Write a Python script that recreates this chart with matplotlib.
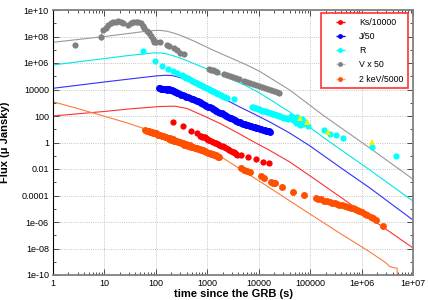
import numpy as np
import matplotlib
matplotlib.use('Agg')
from matplotlib import pyplot as plt
from matplotlib.ticker import FixedLocator, LogLocator, NullFormatter

plt.rcParams['font.family'] = ['Liberation Sans', 'DejaVu Sans']

# --- data (time in s, flux in micro Jansky) ---
# V x 50
v_t = [2.7, 9.3, 10.7, 11.7, 13.4, 14.6, 16.7, 18.3, 21, 22.9,
       28.6, 32.7, 35.7, 40.8, 44.7, 51, 56, 58.5, 67, 73, 80, 87.5, 91.5,
       120, 164, 178, 224, 256, 292, 348,
       1070, 1170, 1280, 1400, 1530, 2090, 2390, 2740, 3130, 3570, 4090,
       5110, 5850, 6690, 7640, 8740, 1.0e4, 1.14e4, 1.31e4, 1.5e4, 1.71e4,
       1.95e4, 2.24e4, 2.45e4]
v_flux = [2.3e7, 3.1e8, 4.6e8, 7.4e8, 1.0e9, 1.2e9, 1.3e9, 1.5e9, 1.2e9, 1.1e9,
          7.4e8, 1.0e9, 1.2e9, 1.3e9, 1.2e9, 1.0e9, 6.2e8, 4.2e8, 2.8e8, 1.8e8,
          1.1e8, 6.1e7, 4.1e7,
          3.7e7, 2.3e7, 1.9e7, 1.4e7, 9.6e6, 6.0e6, 4.6e6,
          3.5e5, 3.2e5, 2.8e5, 2.5e5, 2.2e5, 1.44e5, 1.25e5, 1.0e5, 8.6e4, 7.1e4,
          6.0e4, 4.4e4, 3.8e4, 3.1e4, 2.6e4, 2.2e4, 1.8e4, 1.5e4, 1.25e4,
          1.05e4, 8.8e3, 7.3e3, 6.2e3, 5.4e3]
v_err_t = [8.5, 100]
v_err_flux = [1.0e8, 3.9e7]
v_err_lo = [4.5e7, 1.2e7]
v_err_hi = [9.0e7, 1.7e7]

# R
r_t = [56, 96, 131, 171, 214, 256, 320, 340, 366, 390, 418, 445, 478, 510,
       547, 585, 625, 670, 715, 765, 818, 875, 935, 1000, 1070, 1140, 1220,
       1310, 1400, 1500, 1600, 1710, 1830, 1960, 2090, 2240, 2390, 3270,
       7310, 7800, 8360, 8900, 9550, 1.02e4, 1.09e4, 1.17e4, 1.25e4, 1.34e4,
       1.43e4, 1.53e4, 1.64e4, 1.75e4, 1.87e4, 2.0e4, 2.14e4, 2.3e4,
       2.45e4, 2.6e4, 2.8e4, 3.0e4, 3.2e4, 3.4e4, 3.66e4,
       4.2e4, 4.6e4, 5.0e4, 5.2e4, 5.5e4, 5.8e4, 6.3e4, 6.8e4, 7.4e4,
       8.1e4, 8.9e4,
       1.9e5, 2.4e5, 3.2e5, 4.3e5, 1.6e6, 4.6e6]
r_flux = [8.5e6, 1.5e6, 6.3e5, 3.5e5, 2.3e5, 1.8e5, 1.14e5, 1.0e5, 8.8e4,
          7.6e4, 6.8e4, 6.0e4, 5.2e4, 4.6e4, 4.0e4, 3.5e4, 3.1e4, 2.7e4,
          2.3e4, 2.1e4, 1.8e4, 1.6e4, 1.4e4, 1.2e4, 1.05e4, 9.3e3, 8.1e3,
          7.2e3, 6.3e3, 5.5e3, 4.8e3, 4.2e3, 3.7e3, 3.3e3, 2.9e3, 2.5e3,
          2.2e3, 1.8e3,
          480, 440, 400, 370, 340, 310, 280, 260, 240, 220, 200, 185, 170,
          155, 140, 130, 120, 110, 100, 92, 84, 77, 71, 65, 59,
          100, 50, 71, 30, 83, 42, 21, 59, 25, 35, 18,
          8.7, 4.4, 3.7, 2.2, 0.46, 0.095]
r_lim_t = [6.3e4, 8.5e4, 2.2e5, 1.6e6]
r_lim_flux = [70, 35, 6.3, 1.1]

# J/50
j_t = [116, 120, 126, 133, 139, 147, 155, 165, 173, 180, 187, 195, 202, 217,
       225, 234, 245, 260, 275, 292, 315, 340, 365, 394, 425, 460, 495, 530,
       575, 620, 665, 715, 770, 830, 895, 965, 1040, 1120, 1210, 1300, 1400,
       1510, 1630, 1750, 1890, 2040, 2200, 2360, 2550, 2740, 2950, 3170,
       3420, 3680, 3970, 4270, 4600, 4960, 5350, 5760, 6200, 6700, 7200,
       7760, 8350, 9000, 9700, 1.05e4, 1.13e4, 1.22e4, 1.3e4, 1.41e4, 1.52e4,
       1.58e4, 1.63e4]
j_flux = [1.23e4, 1.3e4, 1.15e4, 1.05e4, 1.1e4, 1.15e4, 1.08e4, 1.0e4, 1.05e4,
          1.1e4, 1.0e4, 9.5e3, 9.2e3, 8.0e3, 7.5e3, 6.8e3, 6.2e3, 5.6e3,
          5.0e3, 4.6e3, 4.1e3, 3.6e3, 3.2e3, 2.9e3, 2.6e3, 2.3e3, 2.0e3,
          1.8e3, 1.6e3, 1.4e3, 1.25e3, 1.1e3, 950, 820, 700, 600, 520, 450,
          390, 340, 290, 250, 210, 180, 155, 135, 115, 100, 88, 75, 65, 56,
          50, 43, 38, 33, 30, 26, 23, 21, 19.5, 18, 17, 15.5, 14, 12.5, 11.5,
          10.5, 10, 9.0, 8.2, 7.8, 7.2, 7.0, 6.6]

# Ks/10000
k_t = [217, 339, 472, 617, 715, 760, 800, 850, 890, 940, 990, 1050, 1100,
       1200, 1300, 1400, 1500, 1600, 1700, 1880, 2000, 2150, 2360, 2500,
       2700, 2950, 3100, 3300, 3440, 3550, 3700, 4600, 6100, 9000, 1.23e4,
       1.6e4]
k_flux = [37, 18, 7.8, 5.0, 3.1, 2.9, 2.6, 2.7, 2.5, 2.1, 1.74, 1.6, 1.55,
          1.3, 1.15, 1.0, 0.87, 0.8, 0.68, 0.55, 0.5, 0.43, 0.36, 0.33, 0.28,
          0.24, 0.2, 0.18, 0.15, 0.13, 0.115, 0.105, 0.085, 0.062, 0.035,
          0.027]

# 2 keV/5000
x_t = [62, 66, 70, 74, 77, 82, 85, 89, 95, 100, 104, 110, 115, 120, 130, 135,
       140, 150, 161, 170, 180, 188, 200, 217, 230, 240, 252, 270, 292, 310,
       320, 340, 360, 380, 394, 420, 440, 460, 490, 530, 570, 590, 620, 670,
       715, 760, 780, 830, 880, 900, 965, 1040, 1120, 1200, 1250, 1300, 1380,
       1450, 1550, 1620, 1700,
       4500, 5200, 6000, 6900, 1.1e4, 1.26e4, 1.7e4, 1.9e4, 2.1e4, 2.9e4,
       4.7e4, 7.6e4, 1.3e5, 1.45e5, 1.6e5, 1.9e5, 2.1e5, 2.4e5, 2.7e5,
       3.0e5, 3.4e5, 3.7e5, 4.2e5, 4.8e5, 5.5e5, 6.2e5, 6.7e5, 7.5e5,
       8.3e5, 9.1e5, 1.0e6, 1.15e6, 1.3e6, 1.5e6, 1.7e6, 1.9e6, 2.6e6]
x_flux = [8.5, 7.8, 7.2, 7.0, 6.5, 5.9, 6.0, 5.5, 4.9, 4.8, 4.5, 4.0, 4.0,
          3.7, 3.0, 3.1, 3.2, 2.5, 2.75, 2.1, 2.0, 2.2, 1.6, 1.74, 1.4, 1.3,
          1.4, 1.1, 1.15, 0.88, 0.86, 0.95, 0.7, 0.68, 0.78, 0.56, 0.55,
          0.6, 0.48, 0.48, 0.38, 0.37, 0.4, 0.31, 0.32, 0.26, 0.25, 0.25,
          0.21, 0.21, 0.2, 0.17, 0.16, 0.14, 0.13, 0.13, 0.115, 0.105, 0.095,
          0.085, 0.082,
          0.011, 0.009, 0.0075, 6.3e-3, 2.8e-3, 2.2e-3, 1.1e-3, 9.5e-4,
          8.3e-4, 4.6e-4, 1.9e-4, 1.15e-4, 6.2e-5, 5.5e-5, 5.0e-5, 4.1e-5,
          3.7e-5, 3.2e-5, 2.8e-5, 2.6e-5, 2.2e-5, 2.0e-5, 1.8e-5, 1.5e-5,
          1.3e-5, 1.15e-5, 1.07e-5, 9e-6, 7.5e-6, 6.8e-6, 5.5e-6, 4.3e-6,
          3.4e-6, 2.6e-6, 1.9e-6, 1.4e-6, 4.6e-7]

# --- model curves ---
opt_model_t = [1, 10, 30, 60, 88, 120, 165, 235, 335, 575, 1340, 2740, 5840,
               1.05e4, 4e4, 1.87e5, 1.45e6, 1e7]
r_model = [7.1e5, 2.15e6, 3.7e6, 4.9e6, 5.7e6, 5.8e6, 4.8e6, 3.2e6, 2.0e6,
           8.4e5, 2.2e5, 6.8e4, 1.84e4, 5.4e3, 200, 2.2, 8.4e-3, 3.8e-5]
v_model = [3.65e7, 1.0e8, 1.7e8, 2.4e8, 2.8e8, 2.9e8, 2.5e8, 1.7e8, 1.04e8,
           4.2e7, 8.8e6, 2.6e6, 7.1e5, 2.3e5, 9.2e3, 100, 0.38, 1.7e-3]
j_model_t = [1, 10, 31, 100, 150, 204, 292, 458, 817, 1750, 4270, 7760,
             1.65e4, 4e4, 1e5, 4e5, 1.45e6, 1e7]
j_model = [1.23e4, 3.7e4, 6.2e4, 1.05e5, 1.18e5, 1.14e5, 8.1e4, 4.0e4, 1.23e4,
           2.9e3, 480, 155, 35, 5.2, 0.54, 0.0119, 3.7e-4, 1.4e-6]
k_model_t = [1, 10, 30, 120, 235, 400, 817, 1750, 4270, 7760, 1.65e4, 4e4,
             1e5, 4e5, 1.45e6, 1e7]
k_model = [100, 220, 340, 520, 550, 370, 110, 28, 4.4, 1.19, 0.25, 0.034,
           3.0e-3, 7.1e-5, 2.0e-6, 1.1e-8]
x_model_t = [1, 2.9, 8.2, 27, 88, 290, 715, 1750, 1.05e4, 6.3e4, 3.7e5,
             1.45e6, 3.0e6, 3.5e6, 4.4e6, 4.9e6, 5.0e6]
x_model = [1200, 380, 120, 31, 6.6, 1.55, 0.46, 0.095, 1.15e-3, 1.26e-5,
           1.5e-7, 5.5e-9, 8.1e-10, 4.4e-10, 3.4e-10, 3.4e-10, 5e-11]

labels = ['Ks/10000', 'J/50', 'R', 'V x 50', '2 keV/5000']
y_tick_labels = ['1e+10', '1e+08', '1e+06', '10000', '100', '1', '0.01',
                 '0.0001', '1e-06', '1e-08', '1e-10']
x_tick_labels = ['1', '10', '100', '1000', '10000', '100000', '1e+06', '1e+07']

fig = plt.figure(figsize=(4.28, 3.0), dpi=100)
ax = fig.add_axes([53 / 428, 25 / 300, 360 / 428, 265 / 300])
ax.set_xscale('log')
ax.set_yscale('log')

# models
ax.plot(opt_model_t, v_model, color='#999999', lw=0.8)
ax.plot(opt_model_t, r_model, color='#00e8e8', lw=0.8)
ax.plot(j_model_t, j_model, color='#3030ff', lw=0.8)
ax.plot(k_model_t, k_model, color='#ff3030', lw=0.8)
ax.plot(x_model_t, x_model, color='#ff7b3a', lw=0.8)

# data
ms = 4.5
ax.plot(v_t, v_flux, 'o', color='#808080', ms=ms, mew=0)
ax.errorbar(v_err_t, v_err_flux, yerr=[v_err_lo, v_err_hi], fmt='o',
            color='#808080', ms=ms, mew=0, elinewidth=0.8, capsize=2)
ax.plot(r_t, r_flux, 'o', color='#00ffff', ms=ms, mew=0)
ax.plot(r_lim_t, r_lim_flux, '^', color='#f0f000', ms=4, mew=0)
ax.plot(j_t, j_flux, 'o', color='#0000ff', ms=5, mew=0)
ax.plot(k_t, k_flux, 'o', color='#ff0000', ms=ms, mew=0)
ax.plot(x_t, x_flux, 'o', color='#ff5000', ms=5, mew=0)

# legend proxies in errorbar style
dot_cols = ['#ff0000', '#0000ff', '#00ffff', '#808080', '#ff5000']
bar_cols = ['#ff0000', '#0000ff', '#00ffff', '#c0c0c0', '#ffa080']
handles = []
for lab, dc, bc in zip(labels, dot_cols, bar_cols):
    h = ax.errorbar([np.nan], [np.nan], xerr=[1], fmt='o', color=dc,
                    ecolor=bc, ms=3.5, mew=0, elinewidth=1, capsize=2,
                    label=lab)
    handles.append(h)
leg = ax.legend(handles=handles, loc='upper right',
                bbox_to_anchor=(0.986, 0.9875), borderaxespad=0,
                fontsize=6.3, fancybox=False, framealpha=1,
                handlelength=3.4, handletextpad=0.45, labelspacing=0.6,
                borderpad=0.5)
leg.get_frame().set_edgecolor('#ff3333')
leg.get_frame().set_linewidth(1.2)

ax.set_xlim(1, 1e7)
ax.set_ylim(1e-10, 1e10)

ax.yaxis.set_major_locator(FixedLocator([10.0 ** e for e in range(10, -11, -2)]))
ax.set_yticklabels(y_tick_labels)
ax.yaxis.set_minor_locator(FixedLocator([10.0 ** e for e in range(9, -10, -2)]))
ax.yaxis.set_minor_formatter(NullFormatter())
ax.xaxis.set_major_locator(FixedLocator([10.0 ** e for e in range(0, 8)]))
ax.set_xticklabels(x_tick_labels)
ax.xaxis.set_minor_locator(LogLocator(base=10, subs=np.arange(2, 10), numticks=20))
ax.xaxis.set_minor_formatter(NullFormatter())

ax.tick_params(which='both', direction='in', top=True, right=True,
               labelsize=6.5, pad=3, color='#333333')
ax.tick_params(which='major', length=4, width=0.6)
ax.tick_params(which='minor', length=2, width=0.6)

ax.grid(which='major', linestyle=':', color='#b0b0b0', linewidth=0.6)
ax.set_axisbelow(True)

for s in ['top', 'right', 'bottom']:
    ax.spines[s].set_color('#808080')
    ax.spines[s].set_linewidth(1.3)
ax.spines['left'].set_color('#000000')
ax.spines['left'].set_linewidth(0.8)

ax.set_ylabel('Flux (\u03bc Jansky)', fontsize=8, fontweight='bold')
ax.set_xlabel('time since the GRB (s)', fontsize=8, fontweight='bold')
ax.yaxis.set_label_coords(-0.12, 0.5)
ax.xaxis.set_label_coords(0.5, -0.052)

plt.savefig('out.png', dpi=100)
